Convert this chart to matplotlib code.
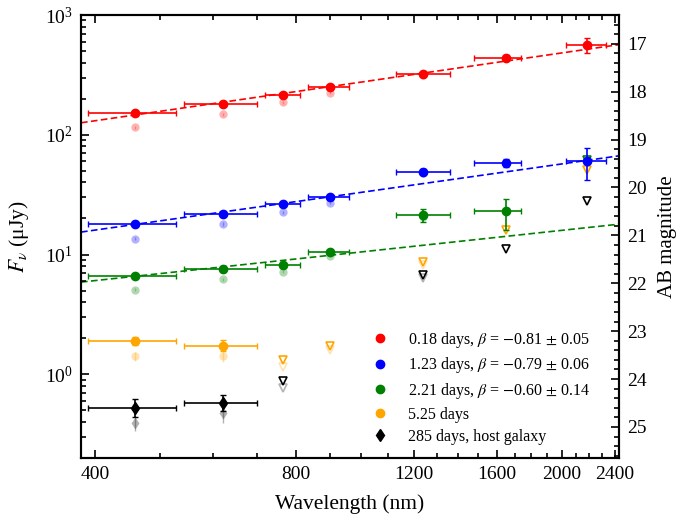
"""Broadband SED of the afterglow at several epochs, with power-law fits."""

import numpy as np
import matplotlib
matplotlib.use("Agg")
import matplotlib.pyplot as plt
from matplotlib.lines import Line2D
from matplotlib.ticker import FixedLocator, MultipleLocator, NullFormatter

plt.rcParams.update({
    "font.family": "serif",
    "font.serif": ["Liberation Serif", "DejaVu Serif"],
    "mathtext.fontset": "stix",
    "font.size": 14,
    "axes.linewidth": 1.5,
})

# Filter effective wavelengths (g r i z J H K) and band extents, nm
band_lam = [459, 622, 765, 899, 1241, 1648, 2180]
band_lo = [390, 543, 718, 835, 1129, 1479, 2028]
band_hi = [528, 700, 811, 961, 1359, 1739, 2328]

# 0.18 d
red_flux = [153, 179, 215, 251, 324, 441, 562]
red_err_lo = [5, 6, 7, 8, 12, 20, 78]
red_err_hi = [5, 6, 7, 8, 12, 20, 76]
red_raw = [116, 148, 187, 225, 318]

# 1.23 d
blue_flux = [17.9, 22.0, 26.2, 30.2, 49.2, 58.4, 59.9]
blue_err_lo = [0.5, 0.6, 0.8, 1.0, 2.5, 4.7, 18.3]
blue_err_hi = [0.5, 0.6, 0.8, 1.0, 2.5, 4.7, 17.4]
blue_raw = [13.6, 18.0, 22.6, 27.1, 47.5]

# 2.21 d (K band is an upper limit)
green_flux = [6.68, 7.54, 8.25, 10.5, 21.3, 22.9]
green_err_lo = [0.2, 0.25, 0.3, 0.4, 2.6, 7.0]
green_err_hi = [0.2, 0.25, 0.3, 0.4, 2.9, 6.0]
green_raw = [5.07, 6.22, 7.16, 9.8, 20.5]
green_lim = [61.9]
green_lim_idx = [6]

# 5.25 d
orange_flux = [1.905, 1.73]
orange_err_lo = [0.15, 0.16]
orange_err_hi = [0.13, 0.20]
orange_raw = [1.42, 1.42]
orange_raw_err = [0.12, 0.15]
orange_lim = [1.31, 1.73, 8.67, 15.9, 50.4]
orange_lim_idx = [2, 3, 4, 5, 6]
orange_raw_lim = [1.14, 1.59, 8.1]

# 285 d, host galaxy
host_flux = [0.521, 0.573]
host_err_lo = [0.08, 0.08]
host_err_hi = [0.10, 0.10]
host_raw = [0.395, 0.473]
host_raw_err = [0.06, 0.08]
host_lim = [0.879, 6.72, 11.07, 27.8]
host_lim_idx = [2, 4, 5, 6]
host_raw_lim = [0.775, 6.4]

# power-law fits F ~ lambda^-beta, normalised at 1000 nm
fit_beta = [-0.81, -0.79, -0.60]
fit_norm = [275, 33.0, 10.5]

FMIN, FMAX = 0.2, 1000
XMIN, XMAX = 381, 2437
FADE = 0.3
MS = 6


def pick(seq, idx):
    return [seq[i] for i in idx]


def xerr_for(idx):
    lam = pick(band_lam, idx)
    lo = [l - b for l, b in zip(lam, pick(band_lo, idx))]
    hi = [b - l for l, b in zip(lam, pick(band_hi, idx))]
    return [lo, hi]


def faded(ax, idx, flux, err, color, marker="o"):
    ax.errorbar(pick(band_lam, idx), flux, yerr=[err, err], fmt=marker, color=color,
                mec="none", ms=MS, alpha=FADE, elinewidth=1.0, capsize=0, zorder=2)


def detected(ax, idx, flux, elo, ehi, color, marker="o"):
    ax.errorbar(pick(band_lam, idx), flux, xerr=xerr_for(idx), yerr=[elo, ehi],
                fmt=marker, color=color, ms=MS, elinewidth=1.2, capsize=2.5,
                capthick=1.0, zorder=3)


def limits(ax, idx, flux, color, alpha=1.0):
    ax.plot(pick(band_lam, idx), flux, "v", mfc="none", mec=color, mew=1.2, ms=MS,
            alpha=alpha, zorder=2 if alpha == 1.0 else 1)


fig = plt.figure(figsize=(6.78, 5.15), dpi=100)
ax = fig.add_axes([81 / 678, 57 / 515, 538 / 678, 443 / 515])

for color, flux, elo, ehi, raw in [
    ("red", red_flux, red_err_lo, red_err_hi, red_raw),
    ("blue", blue_flux, blue_err_lo, blue_err_hi, blue_raw),
    ("green", green_flux, green_err_lo, green_err_hi, green_raw),
]:
    faded(ax, list(range(len(raw))), raw, [r * 0.03 for r in raw], color)
    detected(ax, list(range(len(flux))), flux, elo, ehi, color)

limits(ax, green_lim_idx, green_lim, "green")

# 5.25 d
faded(ax, [0, 1], orange_raw, orange_raw_err, "orange")
detected(ax, [0, 1], orange_flux, orange_err_lo, orange_err_hi, "orange")
limits(ax, orange_lim_idx, orange_lim, "orange")
limits(ax, [2, 3, 4], orange_raw_lim, "orange", FADE)

# host galaxy
faded(ax, [0, 1], host_raw, host_raw_err, "black", "d")
detected(ax, [0, 1], host_flux, host_err_lo, host_err_hi, "black", "d")
limits(ax, host_lim_idx, host_lim, "black")
limits(ax, [2, 4], host_raw_lim, "black", FADE)

# fitted power laws
lam_grid = np.geomspace(XMIN, XMAX, 200)
for color, beta, norm in zip(["red", "blue", "green"], fit_beta, fit_norm):
    ax.plot(lam_grid, norm * (lam_grid / 1000) ** (-beta), "--", color=color,
            lw=1.2, dashes=(4, 2), zorder=1)

ax.set_xscale("log")
ax.set_yscale("log")
ax.set_xlim(XMIN, XMAX)
ax.set_ylim(FMIN, FMAX)

ax.xaxis.set_major_locator(FixedLocator([400, 800, 1200, 1600, 2000, 2400]))
ax.xaxis.set_minor_locator(MultipleLocator(100))
ax.xaxis.set_major_formatter(plt.FuncFormatter(lambda v, p: f"{v:.0f}"))
ax.xaxis.set_minor_formatter(NullFormatter())

ax.tick_params(which="both", direction="in", top=True, right=False, width=1.2)
ax.tick_params(which="major", length=6, pad=6)
ax.tick_params(which="minor", length=3.5)

ax.set_xlabel("Wavelength (nm)", fontsize=15.5, labelpad=8)
ax.set_ylabel(r"$F_\nu$ (μJy)", fontsize=15.5, labelpad=10)

# AB magnitude on the right
ax2 = ax.twinx()
ax2.set_ylim(23.9 - 2.5 * np.log10(FMIN), 23.9 - 2.5 * np.log10(FMAX))
ax2.yaxis.set_major_locator(MultipleLocator(1))
ax2.yaxis.set_minor_locator(MultipleLocator(0.2))
ax2.tick_params(which="both", direction="in", width=1.2)
ax2.tick_params(which="major", length=6, pad=6)
ax2.tick_params(which="minor", length=3.5)
ax2.set_ylabel("AB magnitude", fontsize=15, labelpad=8)

labels = [
    r"0.18 days, $\beta$ = $-$0.81 $\pm$ 0.05",
    r"1.23 days, $\beta$ = $-$0.79 $\pm$ 0.06",
    r"2.21 days, $\beta$ = $-$0.60 $\pm$ 0.14",
    "5.25 days",
    "285 days, host galaxy",
]
handles = [Line2D([], [], ls="none", marker=m, color=c, ms=MS)
           for c, m in zip(["red", "blue", "green", "orange", "black"],
                           ["o", "o", "o", "o", "d"])]
ax.legend(handles, labels, loc="lower left", bbox_to_anchor=(0.5, -0.002),
          frameon=False, fontsize=11.5, handletextpad=0.7, labelspacing=0.36)

fig.savefig("out.png", dpi=100)
